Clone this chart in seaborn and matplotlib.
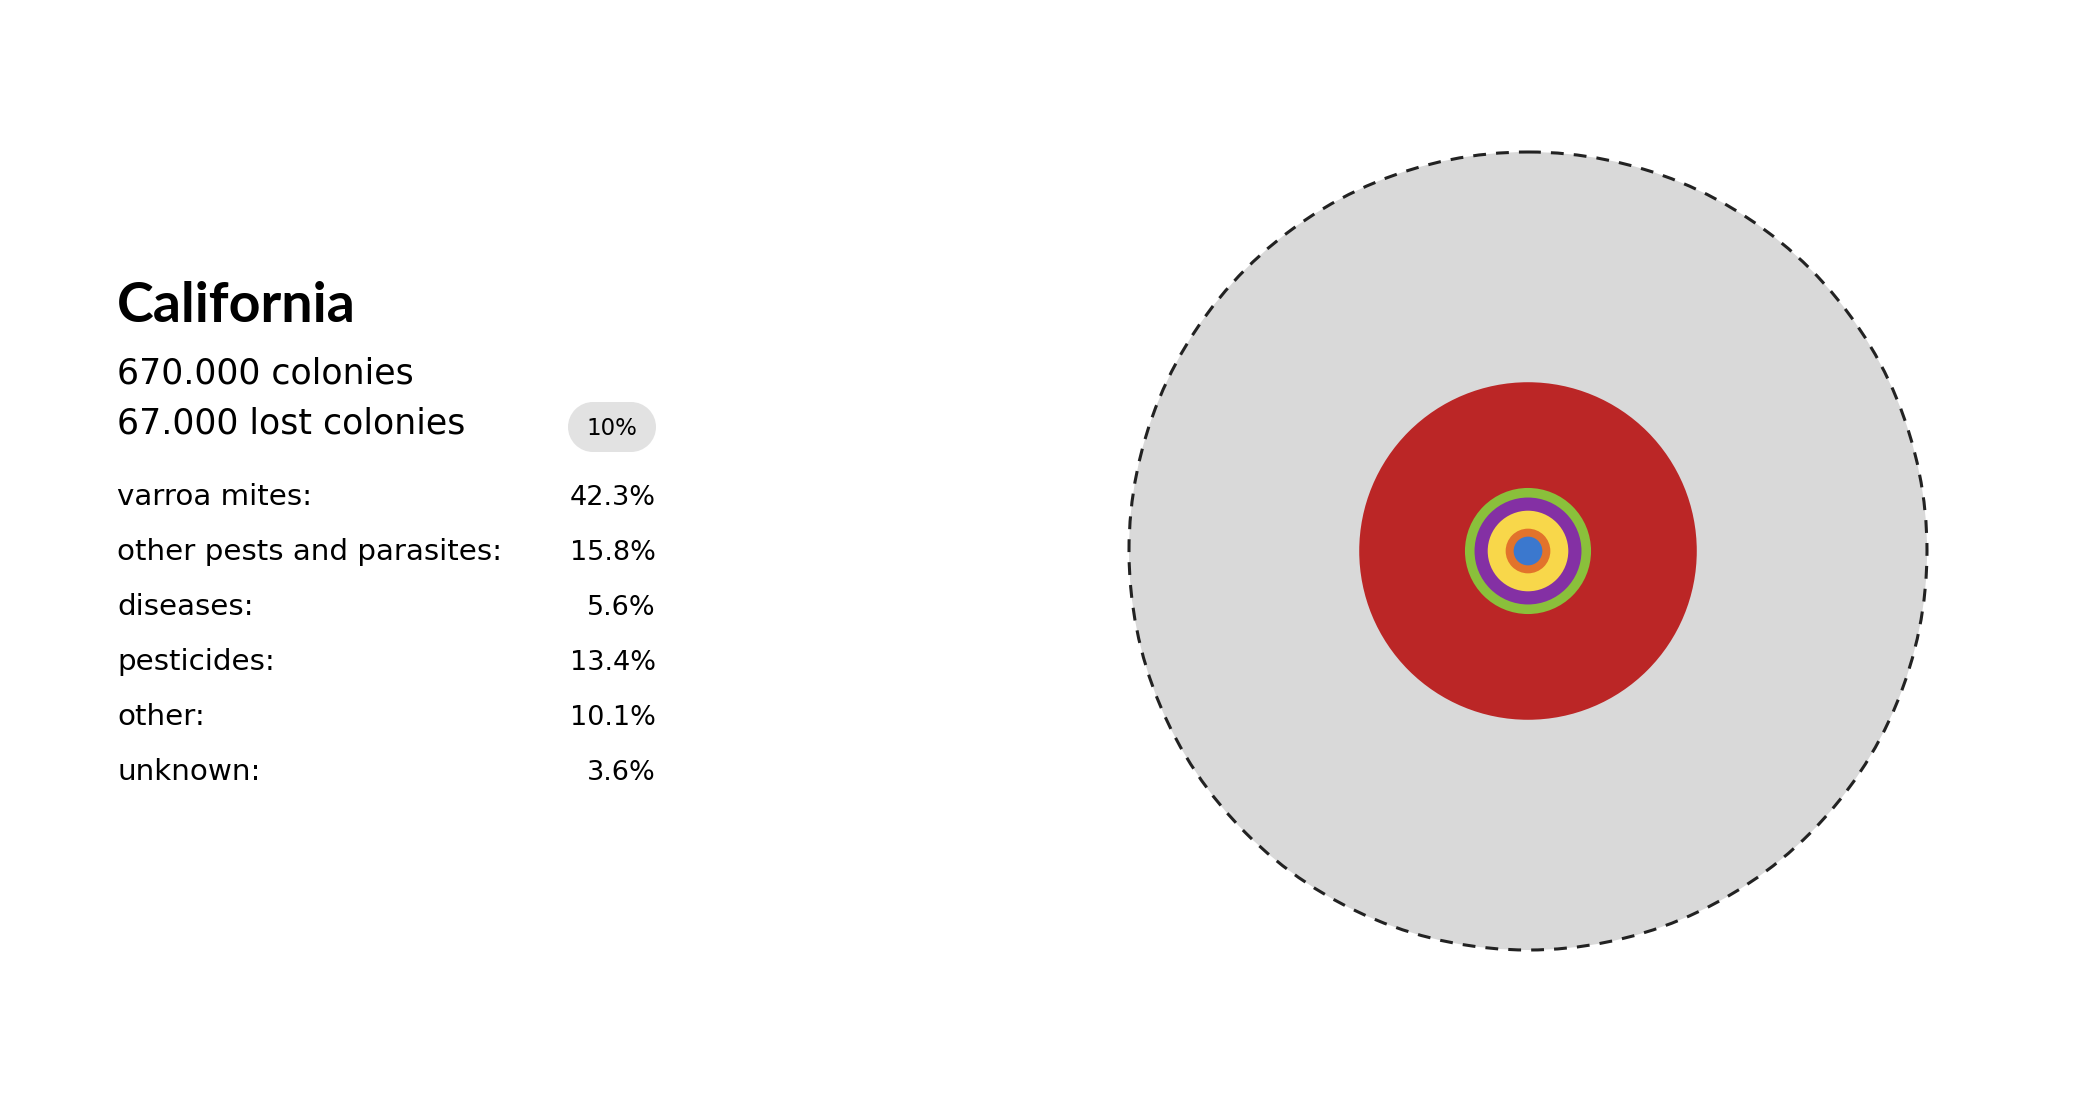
import matplotlib
matplotlib.use("Agg")
import matplotlib.pyplot as plt
from matplotlib.patches import Circle, Rectangle
import seaborn as sns

# ---- data ----
state = "California"
colonies_label = "670.000 colonies"
lost_label = "67.000 lost colonies"
lost_pct_label = "10%"
causes = ["varroa mites", "other pests and parasites", "diseases", "pesticides", "other", "unknown"]
cause_pcts = [42.3, 15.8, 5.6, 13.4, 10.1, 3.6]
cause_colors = ["#BB2626", "#8AC03B", "#E2732B", "#8430A4", "#F8D74A", "#3B78CE"]
total_color = "#D9D9D9"

sns.set_theme(style="white")
plt.rcParams["font.family"] = ["DejaVu Sans"]

W, H = 2086, 1096
fig = plt.figure(figsize=(W / 100, H / 100), dpi=100)
ax = fig.add_axes([0, 0, 1, 1])
ax.set_xlim(0, W)
ax.set_ylim(H, 0)
ax.set_aspect("equal")
ax.axis("off")

# ---- concentric circles: radius proportional to percentage ----
cx, cy, R = 1528, 551, 399
ax.add_patch(Circle((cx, cy), R, facecolor=total_color, edgecolor="none", zorder=1))
ax.add_patch(Circle((cx, cy), R, facecolor="none", edgecolor="#222222", lw=2.2,
                    linestyle=(0, (4.2, 3.3)), zorder=2))
order = sorted(range(len(cause_pcts)), key=lambda i: -cause_pcts[i])
for k, i in enumerate(order):
    ax.add_patch(Circle((cx, cy), R * cause_pcts[i] / 100, facecolor=cause_colors[i],
                        edgecolor="none", zorder=3 + k))

# ---- text panel ----
x0 = 117
xr = 656
ax.text(x0, 322, state, fontsize=40, fontweight="bold", color="black",
        va="baseline", ha="left", family=["Lato", "DejaVu Sans"])
ax.text(x0, 384, colonies_label, fontsize=25, color="black", va="baseline", ha="left")
ax.text(x0, 434, lost_label, fontsize=25, color="black", va="baseline", ha="left")

# badge (pill)
bx0, bx1, by0, by1 = 568, 656, 402, 452
rr = (by1 - by0) / 2
bc = "#E2E2E2"
ax.add_patch(Rectangle((bx0 + rr, by0), (bx1 - bx0) - 2 * rr, by1 - by0,
                       facecolor=bc, edgecolor="none", zorder=4))
ax.add_patch(Circle((bx0 + rr, (by0 + by1) / 2), rr, facecolor=bc, edgecolor="none", zorder=4))
ax.add_patch(Circle((bx1 - rr, (by0 + by1) / 2), rr, facecolor=bc, edgecolor="none", zorder=4))
ax.text((bx0 + bx1) / 2, 435, lost_pct_label, fontsize=16.5, color="black",
        ha="center", va="baseline", zorder=5)

row_base = 505
row_step = 55.1
for j, (name, pct) in enumerate(zip(causes, cause_pcts)):
    y = row_base + j * row_step
    ax.text(x0, y, f"{name}:", fontsize=21.2, color="black", ha="left", va="baseline")
    ax.text(xr, y, f"{pct:.1f}%", fontsize=19.5, color="black", ha="right", va="baseline")

fig.savefig("out.png", dpi=100, facecolor="white")
